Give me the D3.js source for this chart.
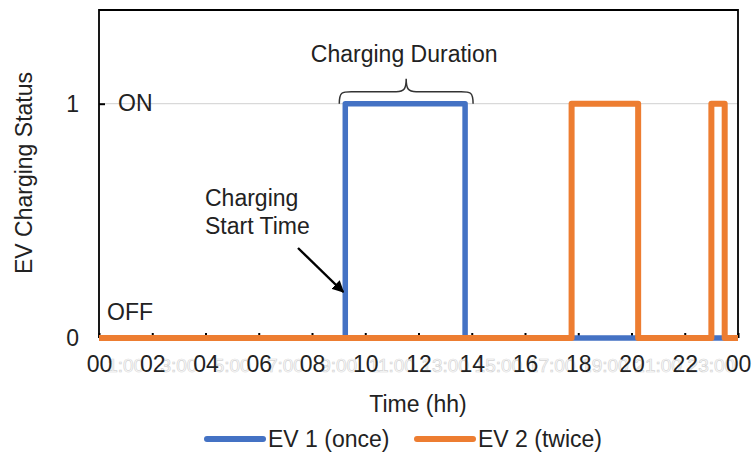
<!DOCTYPE html>
<html>
<head>
<meta charset="utf-8">
<script src="https://cdn.jsdelivr.net/npm/d3@7"></script>
<style>
  html, body { margin: 0; padding: 0; background: #fff; }
  svg { display: block; font-family: "Liberation Sans", Arial, sans-serif; }
</style>
</head>
<body>
<svg id="chart" width="754" height="457"></svg>
<script>
// Charging status of two EVs over one day (hours 0–24)
const ev1Times  = [0, 9.25, 13.75, 24];
const ev1Status = [0, 1, 0, 0];
const ev2Times  = [0, 17.75, 20.25, 23.0, 23.5, 24];
const ev2Status = [0, 1, 0, 1, 0, 0];

const seriesNames = ["EV 1 (once)", "EV 2 (twice)"];
const seriesColors = ["#4472C4", "#ED7D31"];

const xTickHours = [0, 2, 4, 6, 8, 10, 12, 14, 16, 18, 20, 22, 24];
const xTickLabels = ["00", "02", "04", "06", "08", "10", "12", "14", "16", "18", "20", "22", "00"];
const oddHours = [1, 3, 5, 7, 9, 11, 13, 15, 17, 19, 21, 23];
const oddHourLabels = oddHours.map(h => h + ":00");
const yTickValues = [0, 1];
const yStateLabels = ["OFF", "ON"];

const svg = d3.select("#chart");
const FS = 23;

const x = d3.scaleLinear().domain([0, 24]).range([99, 738]);
const y = d3.scaleLinear().domain([0, 1.4]).range([338, 10]);

// gridline at ON level
svg.append("line")
  .attr("x1", x(0)).attr("x2", x(24))
  .attr("y1", y(1)).attr("y2", y(1))
  .attr("stroke", "#d9d9d9").attr("stroke-width", 1.2);

// faint h:00 labels between the hour labels
svg.append("g").selectAll("text")
  .data(oddHours)
  .join("text")
  .attr("x", d => x(d))
  .attr("y", 372)
  .attr("text-anchor", "middle")
  .attr("font-size", 19)
  .attr("fill", "#fff")
  .attr("stroke", "#d4d4d4")
  .attr("stroke-width", 0.7)
  .text((d, i) => oddHourLabels[i]);

// x axis: inward ticks with hour labels
const xAxis = d3.axisBottom(x)
  .tickValues(xTickHours)
  .tickSize(-5)
  .tickPadding(18)
  .tickFormat((d, i) => xTickLabels[i]);
const gx = svg.append("g").attr("transform", `translate(0,${y(0)})`).call(xAxis);
gx.select(".domain").remove();
gx.selectAll(".tick line").attr("stroke", "#000").attr("stroke-width", 2);
gx.selectAll(".tick text").attr("font-size", FS).attr("fill", "#222")
  .attr("font-family", "Liberation Sans, Arial, sans-serif");

// y axis
const yAxis = d3.axisLeft(y)
  .tickValues(yTickValues)
  .tickSize(-6)
  .tickPadding(20)
  .tickFormat(d3.format("d"));
const gy = svg.append("g").attr("transform", `translate(${x(0)},0)`).call(yAxis);
gy.select(".domain").remove();
gy.selectAll(".tick line").attr("stroke", "#000").attr("stroke-width", 2);
gy.selectAll(".tick text").attr("font-size", FS).attr("fill", "#222")
  .attr("font-family", "Liberation Sans, Arial, sans-serif");

// plot frame
svg.append("path")
  .attr("d", `M${x(0)},${y(0)}V${y(1.4)}H${x(24)}V${y(0)}`)
  .attr("fill", "none").attr("stroke", "#000").attr("stroke-width", 1.8);

// ON / OFF state labels
svg.append("text").attr("x", 118).attr("y", y(1) + 7).attr("font-size", FS)
  .attr("fill", "#222").text(yStateLabels[1]);
svg.append("text").attr("x", 107).attr("y", 320).attr("font-size", FS)
  .attr("fill", "#222").text(yStateLabels[0]);

// step lines
const line = d3.line()
  .x(d => x(d[0]))
  .y(d => y(d[1]))
  .curve(d3.curveStepAfter);

const series = [
  d3.zip(ev1Times, ev1Status),
  d3.zip(ev2Times, ev2Status)
];
svg.append("g").selectAll("path")
  .data(series)
  .join("path")
  .attr("d", line)
  .attr("fill", "none")
  .attr("stroke", (d, i) => seriesColors[i])
  .attr("stroke-width", (d, i) => i === 0 ? 5.5 : 6)
  .attr("stroke-linejoin", "round");

// brace over the charging duration
const bx0 = x(ev1Times[1]) - 6, bx1 = x(ev1Times[2]) + 8;
const bm = (bx0 + bx1) / 2;
const by = y(1), bh = 12, tip = 25;
svg.append("path")
  .attr("d", `M${bx0},${by} C${bx0},${by - bh} ${bx0 + 3},${by - bh} ${bx0 + 12},${by - bh}
              H${bm - 10} C${bm - 2},${by - bh} ${bm},${by - bh - 3} ${bm},${by - tip}
              C${bm},${by - bh - 3} ${bm + 2},${by - bh} ${bm + 10},${by - bh}
              H${bx1 - 12} C${bx1 - 3},${by - bh} ${bx1},${by - bh} ${bx1},${by}`)
  .attr("fill", "none").attr("stroke", "#333").attr("stroke-width", 1.5);
svg.append("text").attr("x", bm - 2).attr("y", 62).attr("text-anchor", "middle")
  .attr("font-size", FS).attr("fill", "#222").text("Charging Duration");

// start-time annotation with arrow
svg.append("defs").append("marker")
  .attr("id", "arrowhead").attr("viewBox", "0 0 10 10")
  .attr("refX", 9).attr("refY", 5)
  .attr("markerWidth", 5).attr("markerHeight", 5)
  .attr("orient", "auto")
  .append("path").attr("d", "M0,0L10,5L0,10Z").attr("fill", "#000");
svg.append("line")
  .attr("x1", 298).attr("y1", 248)
  .attr("x2", x(ev1Times[1]) - 2).attr("y2", 292)
  .attr("stroke", "#000").attr("stroke-width", 2.4)
  .attr("marker-end", "url(#arrowhead)");
const st = svg.append("text").attr("font-size", FS).attr("fill", "#222");
st.append("tspan").attr("x", 205).attr("y", 206).text("Charging");
st.append("tspan").attr("x", 205).attr("y", 234).text("Start Time");

// axis titles
svg.append("text")
  .attr("transform", "translate(32,173) rotate(-90)")
  .attr("text-anchor", "middle").attr("font-size", FS).attr("fill", "#222")
  .text("EV Charging Status");
svg.append("text")
  .attr("x", 418).attr("y", 412).attr("text-anchor", "middle")
  .attr("font-size", FS).attr("fill", "#222").text("Time (hh)");

// legend
const legendX = [207, 417];
const lg = svg.append("g").selectAll("g")
  .data(seriesNames)
  .join("g")
  .attr("transform", (d, i) => `translate(${legendX[i]},439)`);
lg.append("line")
  .attr("x1", 0).attr("x2", 56).attr("y1", 0).attr("y2", 0)
  .attr("stroke", (d, i) => seriesColors[i])
  .attr("stroke-width", 6).attr("stroke-linecap", "round");
lg.append("text")
  .attr("x", 61).attr("y", 8).attr("font-size", FS).attr("fill", "#222")
  .text(d => d);
</script>
</body>
</html>
